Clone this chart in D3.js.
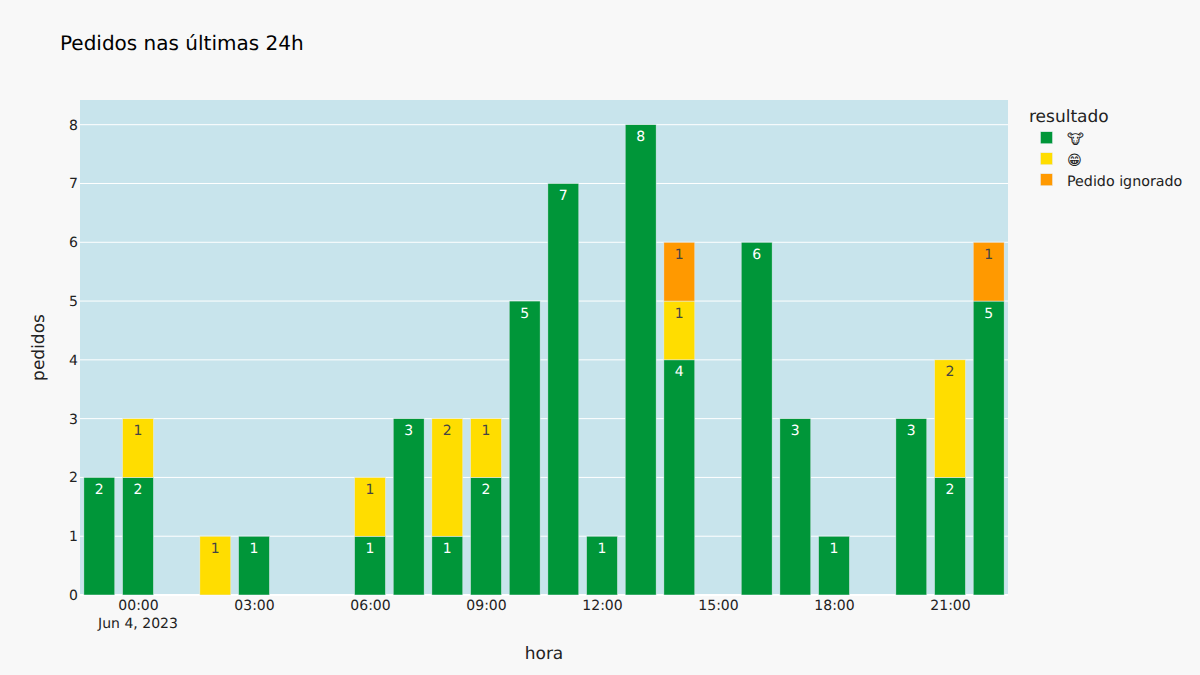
<!DOCTYPE html>
<html><head><meta charset="utf-8">
<script src="https://cdn.jsdelivr.net/npm/d3@7"></script>
<style>html,body{margin:0;padding:0;background:#f8f8f8}svg{display:block}text{font-family:"DejaVu Sans",sans-serif;text-rendering:geometricPrecision}</style>
</head><body><svg id="c" width="1200" height="675"></svg>
<script>
const titleText = "Pedidos nas últimas 24h";
const xTitle = "hora", yTitle = "pedidos", legendTitle = "resultado";
const hours = ["2023-06-03T23:00Z","2023-06-04T00:00Z","2023-06-04T02:00Z","2023-06-04T03:00Z","2023-06-04T06:00Z","2023-06-04T07:00Z","2023-06-04T08:00Z","2023-06-04T09:00Z","2023-06-04T10:00Z","2023-06-04T11:00Z","2023-06-04T12:00Z","2023-06-04T13:00Z","2023-06-04T14:00Z","2023-06-04T16:00Z","2023-06-04T17:00Z","2023-06-04T18:00Z","2023-06-04T20:00Z","2023-06-04T21:00Z","2023-06-04T22:00Z"];
const vaca    = [2,2,0,1,1,3,1,2,5,7,1,8,4,6,3,1,3,2,5];
const sorriso = [0,1,1,0,1,0,2,1,0,0,0,0,1,0,0,0,0,2,0];
const ignorado= [0,0,0,0,0,0,0,0,0,0,0,0,1,0,0,0,0,0,1];
const seriesNames = ["🐮","😁","Pedido ignorado"];
const seriesColors = ["#009639","#ffdd00","#ff9900"];
const seriesText = ["#ffffff","#444444","#444444"];
const xTicks = ["2023-06-04T00:00Z","2023-06-04T03:00Z","2023-06-04T06:00Z","2023-06-04T09:00Z","2023-06-04T12:00Z","2023-06-04T15:00Z","2023-06-04T18:00Z","2023-06-04T21:00Z"];
const yTicks = [0,1,2,3,4,5,6,7,8];
const dateLabel = "Jun 4, 2023";
const xDomain = ["2023-06-03T22:30Z","2023-06-04T22:30Z"];
const yMax = 8.42;

const L=80,R=1008,T=100,B=595;
const svg=d3.select("#c");
const dark="#222";
svg.append("rect").attr("width",1200).attr("height",675).attr("fill","#f8f8f8");
svg.append("rect").attr("x",L).attr("y",T).attr("width",R-L).attr("height",B-T).attr("fill","#c8e4ec");
const x=d3.scaleUtc().domain(xDomain.map(d=>new Date(d))).range([L,R]);
const y=d3.scaleLinear().domain([0,yMax]).range([B,T]);

svg.append("g").selectAll("line").data(yTicks).join("line")
  .attr("x1",L).attr("x2",R).attr("y1",d=>y(d)).attr("y2",d=>y(d))
  .attr("stroke","#fff").attr("stroke-width",d=>d===0?2:1);

const rows=hours.map((h,i)=>({t:new Date(h),a:vaca[i],b:sorriso[i],c:ignorado[i]}));
const stacked=d3.stack().keys(["a","b","c"])(rows);
const HOUR=3600000, bw=0.8*HOUR;
stacked.forEach((s,k)=>{
  const g=svg.append("g");
  const pts=s.filter(d=>d[1]>d[0]);
  g.selectAll("rect").data(pts).join("rect")
    .attr("x",d=>x(new Date(+d.data.t-bw/2)))
    .attr("width",d=>x(new Date(+d.data.t+bw/2))-x(new Date(+d.data.t-bw/2)))
    .attr("y",d=>y(d[1])).attr("height",d=>y(d[0])-y(d[1]))
    .attr("fill",seriesColors[k]).attr("stroke","#e5ecf6").attr("stroke-width",0.5);
  g.selectAll("text").data(pts).join("text")
    .attr("x",d=>x(d.data.t)).attr("y",d=>y(d[1])+16.5)
    .attr("text-anchor","middle").attr("font-size",14).attr("fill",seriesText[k])
    .text(d=>d[1]-d[0]);
});

const ax=svg.append("g").attr("transform",`translate(0,${B})`)
  .call(d3.axisBottom(x).tickValues(xTicks.map(d=>new Date(d))).tickSize(0).tickPadding(5).tickFormat(d3.utcFormat("%H:%M")));
ax.select(".domain").remove();
ax.selectAll("text").attr("font-size",14).attr("font-family",null).attr("fill",dark);
const ay=svg.append("g").attr("transform",`translate(${L},0)`)
  .call(d3.axisLeft(y).tickValues(yTicks).tickSize(0).tickPadding(2).tickFormat(d3.format("d")));
ay.select(".domain").remove();
ay.selectAll("text").attr("font-size",14).attr("font-family",null).attr("fill",dark);

svg.append("text").attr("x",x(new Date(xTicks[0]))).attr("y",628).attr("text-anchor","middle").attr("font-size",14).attr("fill",dark).text(dateLabel);
svg.append("text").attr("x",60).attr("y",50).attr("font-size",20).attr("fill","#000").text(titleText);
svg.append("text").attr("x",(L+R)/2).attr("y",658.5).attr("text-anchor","middle").attr("font-size",17).attr("fill",dark).text(xTitle);
svg.append("text").attr("transform",`translate(44,${(T+B)/2}) rotate(-90)`).attr("text-anchor","middle").attr("font-size",17).attr("fill",dark).text(yTitle);

svg.append("text").attr("x",1029).attr("y",122).attr("font-size",17).attr("fill",dark).text(legendTitle);
const leg=svg.append("g").selectAll("g").data(seriesNames).join("g")
  .attr("transform",(d,i)=>`translate(0,${138+i*21})`);
leg.append("rect").attr("x",1040.5).attr("y",-6.25).attr("width",12).attr("height",12)
  .attr("fill",(d,i)=>seriesColors[i]).attr("stroke","#e5ecf6").attr("stroke-width",0.5);
leg.append("text").attr("x",1067).attr("y",5.5).attr("font-size",14.25).attr("fill",dark).text(d=>d);
</script></body></html>
